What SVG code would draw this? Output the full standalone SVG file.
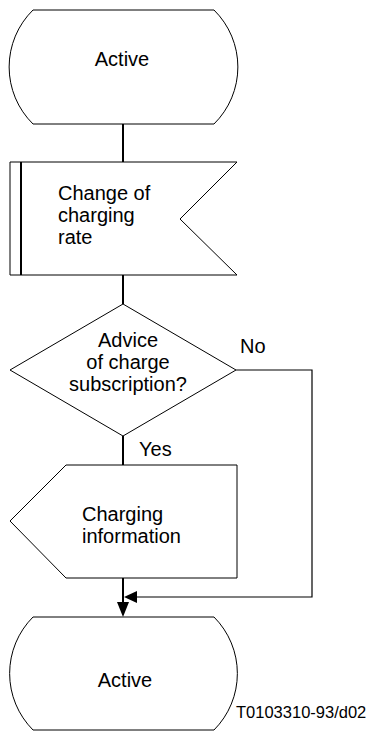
<svg xmlns="http://www.w3.org/2000/svg" width="371" height="736" viewBox="0 0 371 736">
<style>
.shape{fill:#fff;stroke:#000;stroke-width:1}
.conn{fill:none;stroke:#000;stroke-width:2}
.thin{fill:none;stroke:#000;stroke-width:1.2}
.arr{fill:#000;stroke:none}
text{font-family:"Liberation Sans",Arial,sans-serif;font-size:20px;fill:#000}
.c{text-anchor:middle}
.small{font-size:16.5px}
</style>
<rect width="371" height="736" fill="#fff"/>
<g id="connectors">
<line class="conn" x1="123" y1="124" x2="123" y2="162"/>
<line class="conn" x1="123" y1="275" x2="123" y2="304"/>
<line class="conn" x1="123" y1="436" x2="123" y2="465"/>
<line class="conn" x1="123" y1="578" x2="123" y2="604"/>
<polygon class="arr" points="117,602 129,602 123,617"/>
<polyline class="thin" points="236,370 312,370 312,597 136,597"/>
<polygon class="arr" points="137,591 137,603 124,597"/>
<text x="240" y="353">No</text>
<text x="139" y="456">Yes</text>
</g>
<g id="state-active-top">
<path class="shape" d="M33,10 L214,10 A80,80 0 0 1 214,124 L33,124 A80,80 0 0 1 33,10 Z"/>
<text class="c" x="122" y="66">Active</text>
</g>
<g id="input-change-of-charging-rate">
<polygon class="shape" points="10,162 237,162 180,219 237,275 10,275"/>
<line x1="21" y1="162" x2="21" y2="275" stroke="#000" stroke-width="2"/>
<text x="58" y="200">Change of</text>
<text x="58" y="222">charging</text>
<text x="58" y="244">rate</text>
</g>
<g id="decision-advice-of-charge">
<polygon class="shape" points="123,304 236,370 123,436 10,370"/>
<text class="c" x="128" y="347">Advice</text>
<text class="c" x="128" y="369">of charge</text>
<text class="c" x="128" y="391">subscription?</text>
</g>
<g id="output-charging-information">
<polygon class="shape" points="66,465 237,465 237,578 66,578 10,521"/>
<text x="82" y="521">Charging</text>
<text x="82" y="543">information</text>
</g>
<g id="state-active-bottom">
<path class="shape" d="M33,617 L214,617 A80,80 0 0 1 214,730 L33,730 A80,80 0 0 1 33,617 Z"/>
<text class="c" x="125" y="687">Active</text>
</g>
<text class="small" x="236" y="718">T0103310-93/d02</text>
</svg>
